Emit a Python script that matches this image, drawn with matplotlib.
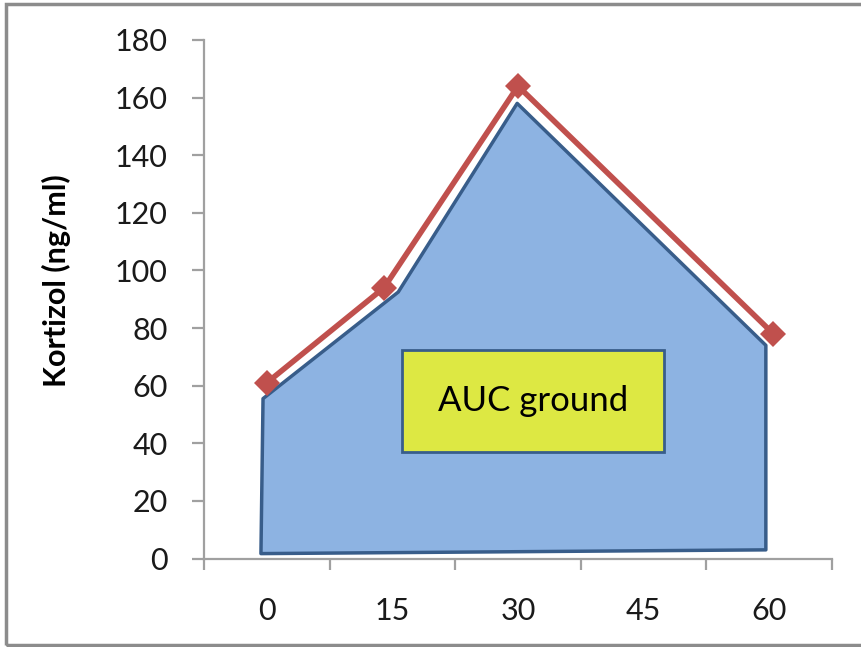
from matplotlib import pyplot as plt
from matplotlib.patches import Polygon, Rectangle
import numpy as np

plt.rcParams['font.family'] = ['Lato', 'DejaVu Sans']

# Sampling times [min] and cortisol readings [ng/ml]
t = [0, 14, 30, 60.5]
kortizol = [61, 94, 164, 78]

# Outline of the shaded area under the curve (hand-drawn shape)
auc_x = [-0.7, -0.45, 15.7, 29.9, 59.6, 59.6, -0.7]
auc_y = [1.7, 55.5, 92.5, 158.0, 74.0, 3.0, 1.7]

xticklabels = ['0', '15', '30', '45', '60']
xtickpos = [0, 15, 30, 45, 60]
yticks = np.arange(0, 181, 20)

axis_grey = '#A0A0A0'

fig = plt.figure(figsize=(8.61, 6.47), dpi=100)
ax = fig.add_axes([204/861., 1 - 558.5/647., 628/861., 518.5/647.])

# grey frame around the whole chart
fig.patches.append(Rectangle((6/861., 2/647.), 2.0, 641/647., transform=fig.transFigure,
                             fill=False, edgecolor='#8C8C8C', linewidth=2.5))

# AUC ground area
ax.add_patch(Polygon(np.column_stack([auc_x, auc_y]), closed=True,
                     facecolor='#8DB3E2', edgecolor='#385D8A', linewidth=2.5,
                     joinstyle='round', zorder=2))

# measured curve
ax.plot(t, kortizol, '-D', color='#C0504D', linewidth=4, markersize=13,
        markeredgewidth=0, zorder=4, clip_on=False)

# label box
ax.add_patch(Rectangle((16.15, 36.8), 31.3, 35.5, facecolor='#DDE843',
                       edgecolor='#385D8A', linewidth=2.0, zorder=5))
ax.text(16.15 + 31.3/2, 36.8 + 35.5/2, 'AUC ground', ha='center', va='center',
        fontsize=25, color='black', zorder=6)

ax.set_xlim(-7.5, 67.5)
ax.set_ylim(0, 180)

ax.set_yticks(yticks)
ax.set_xticks(xtickpos)
ax.set_xticklabels(xticklabels)
ax.set_xticks(np.arange(-7.5, 68, 15), minor=True)

for side in ['top', 'right']:
    ax.spines[side].set_visible(False)
for side in ['left', 'bottom']:
    ax.spines[side].set_color(axis_grey)
    ax.spines[side].set_linewidth(1.6)

ax.tick_params(axis='y', direction='out', length=9, width=1.6, color=axis_grey,
               labelsize=22, pad=17, labelcolor='#1A1A1A')
ax.tick_params(axis='x', which='major', length=0, labelsize=22, pad=28,
               labelcolor='#1A1A1A')
ax.tick_params(axis='x', which='minor', direction='out', length=8, width=1.6,
               color=axis_grey)

ax.set_ylabel('Kortizol (ng/ml)', fontsize=22, fontweight='bold')
ax.yaxis.set_label_coords(-0.212, 0.535)
ax.patch.set_alpha(0)

plt.savefig('out.png', dpi=100)
